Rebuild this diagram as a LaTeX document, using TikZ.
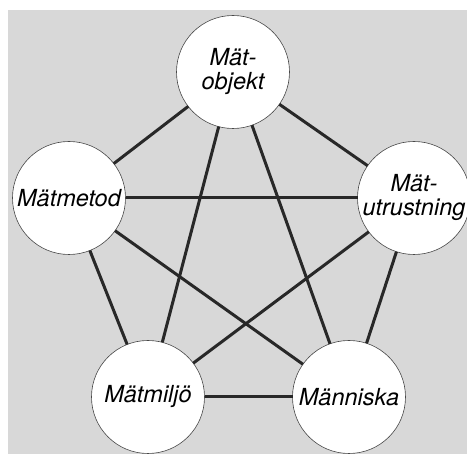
\documentclass[tikz,border=0pt]{standalone}
\usepackage{fontspec}
\setmainfont{TeX Gyre Heros}
\definecolor{bgcol}{RGB}{216,216,216}
\definecolor{linecol}{RGB}{40,40,40}
\begin{document}
\begin{tikzpicture}[x=1pt,y=1pt,
  factor/.style={circle,draw=linecol!85,line width=0.6pt,fill=white,minimum size=113pt,inner sep=0pt,outer sep=0pt,align=center,font=\fontsize{23.5}{24}\selectfont\itshape},
  link/.style={draw=linecol,line width=3pt}]
\useasboundingbox (0,0) rectangle (467,462);
\fill[bgcol] (8,8) rectangle (467,452);
\node[factor] (obj) at (233,390) {Mät-\\objekt};
\node[factor] (met) at (69,264) {Mätmetod};
\node[factor] (utr) at (414,264) {Mät-\\utrustning};
\node[factor] (milj) at (148,65) {Mätmiljö};
\node[factor] (mann) at (349,65) {Människa};
\draw[link] (obj) -- (met);
\draw[link] (obj) -- (utr);
\draw[link] (obj) -- (milj);
\draw[link] (obj) -- (mann);
\draw[link] (met) -- (utr);
\draw[link] (met) -- (milj);
\draw[link] (met) -- (mann);
\draw[link] (utr) -- (milj);
\draw[link] (utr) -- (mann);
\draw[link] (milj) -- (mann);
\end{tikzpicture}
\end{document}
